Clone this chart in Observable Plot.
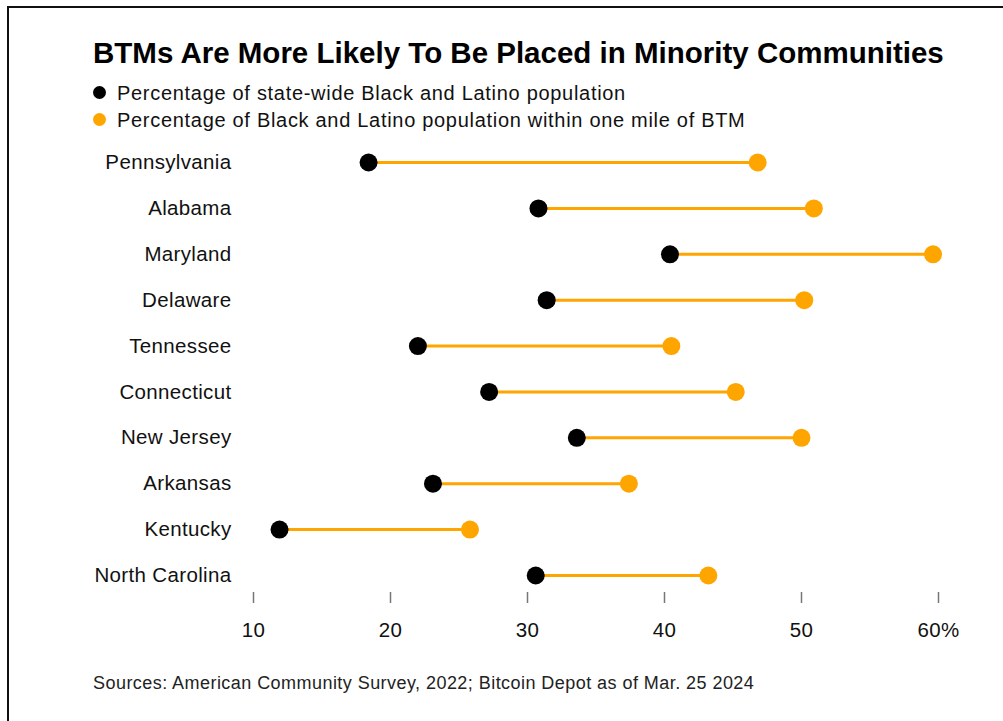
<!DOCTYPE html>
<html>
<head>
<meta charset="utf-8">
<script src="https://cdn.jsdelivr.net/npm/d3@7"></script>
<script src="https://cdn.jsdelivr.net/npm/@observablehq/plot@0.6"></script>
<style>
  html, body { margin: 0; padding: 0; background: #fff; }
  body { width: 1003px; height: 721px; position: relative; overflow: hidden; font-family: "Liberation Sans", Arial, sans-serif; }
  #frame { position: absolute; left: 7px; top: 6px; width: 1100px; height: 800px; border-top: 2px solid #111; border-left: 2px solid #111; }
  #title { position: absolute; left: 93px; top: 38px; font-size: 29.5px; font-weight: bold; line-height: 1; color: #000; white-space: nowrap; }
  .leg { position: absolute; left: 93px; font-size: 20px; letter-spacing: 0.7px; line-height: 1; color: #111; white-space: nowrap; }
  .leg span { display: inline-block; width: 13px; height: 13px; border-radius: 50%; margin-right: 11px; vertical-align: 1px; }
  #chart { position: absolute; left: 0; top: 0; }
  #chart svg text { letter-spacing: 0.35px; }
  #source { position: absolute; left: 93px; top: 674px; font-size: 18px; letter-spacing: 0.45px; line-height: 1; color: #222; white-space: nowrap; }
</style>
</head>
<body>
<div id="frame"></div>
<div id="title">BTMs Are More Likely To Be Placed in Minority Communities</div>
<div class="leg" id="leg1" style="top:83px"><span style="background:#000"></span>Percentage of state-wide Black and Latino population</div>
<div class="leg" id="leg2" style="top:110px"><span style="background:#FFA500"></span>Percentage of Black and Latino population within one mile of BTM</div>
<div id="chart"></div>
<div id="source">Sources: American Community Survey, 2022; Bitcoin Depot as of Mar. 25 2024</div>
<script>
const states = ["Pennsylvania", "Alabama", "Maryland", "Delaware", "Tennessee", "Connecticut", "New Jersey", "Arkansas", "Kentucky", "North Carolina"];
const stateWide = [18.4, 30.8, 40.4, 31.4, 22.0, 27.2, 33.6, 23.1, 11.9, 30.6];
const nearBTM = [46.8, 50.9, 59.6, 50.2, 40.5, 45.2, 50.0, 37.4, 25.8, 43.2];
const xTicks = [10, 20, 30, 40, 50, 60];
const xTickLabels = ["10", "20", "30", "40", "50", "60%"];

const BLACK = "#000000";
const ORANGE = "#FFA500";

const data = states.map((s, i) => ({state: s, a: stateWide[i], b: nearBTM[i]}));

const chart = Plot.plot({
  width: 1003,
  height: 660,
  marginLeft: 253,
  marginRight: 65,
  marginTop: 0,
  marginBottom: 68,
  style: {fontFamily: "Liberation Sans, Arial, sans-serif", background: "transparent", overflow: "visible"},
  x: {domain: [10, 60]},
  y: {type: "point", domain: states, range: [162, 575], padding: 0, round: false},
  marks: [
    Plot.axisX({ticks: xTicks, tickFormat: (d) => xTickLabels[xTicks.indexOf(d)], tickSize: 11, tickPadding: 19, stroke: "#777", strokeWidth: 1.5, fontSize: 20.5, fill: "#111", label: null}),
    Plot.axisY({tickSize: 0, tickPadding: 22, fontSize: 20.5, fill: "#111", label: null}),
    Plot.link(data, {x1: "a", x2: "b", y1: "state", y2: "state", stroke: ORANGE, strokeWidth: 3}),
    Plot.dot(data, {x: "a", y: "state", r: 9, fill: BLACK}),
    Plot.dot(data, {x: "b", y: "state", r: 9, fill: ORANGE})
  ]
});
document.getElementById("chart").appendChild(chart);
</script>
</body>
</html>
